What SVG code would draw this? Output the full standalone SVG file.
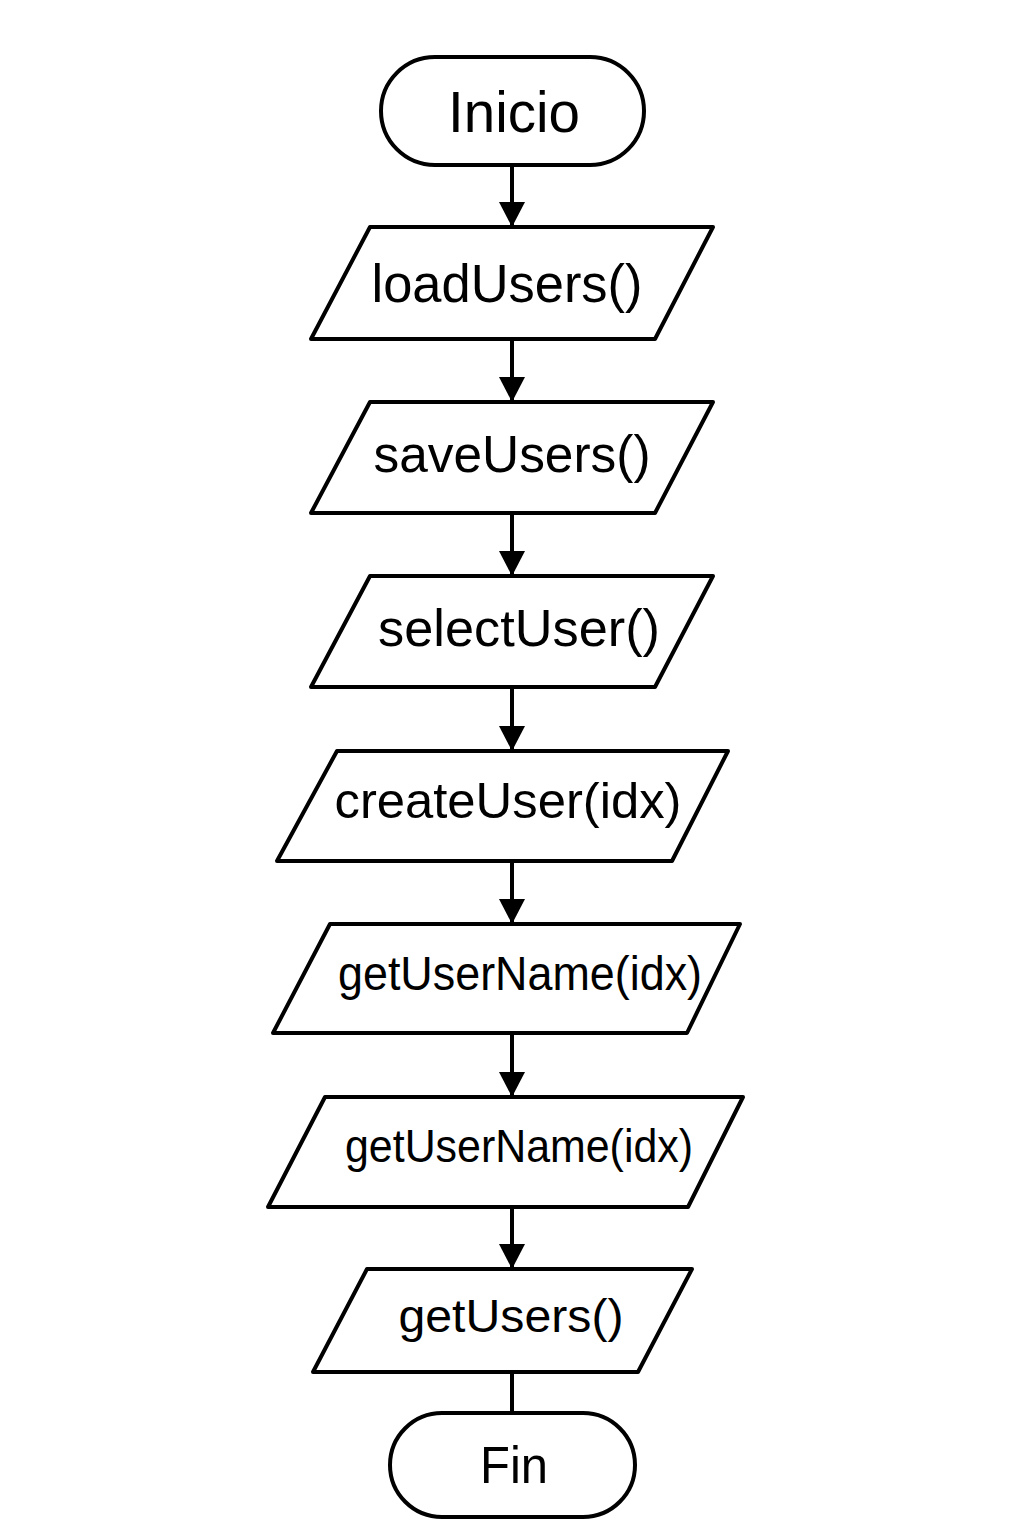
<svg xmlns="http://www.w3.org/2000/svg" width="1024" height="1536" viewBox="0 0 1024 1536">
<defs>
<style>
.shape{fill:#fff;stroke:#000;stroke-width:4;stroke-linejoin:round}
.conn{fill:none;stroke:#000;stroke-width:4}
.lbl{font-family:"Liberation Sans",Arial,sans-serif;fill:#000;text-anchor:middle}
</style>
<marker id="ah" markerUnits="userSpaceOnUse" viewBox="0 0 25 26" refX="25" refY="13" markerWidth="25" markerHeight="26" orient="auto">
<path d="M0,0 L25,13 L0,26 Z" fill="#000"/>
</marker>
</defs>
<rect width="1024" height="1536" fill="#fff"/>
<g id="connectors">
<line class="conn" x1="512" y1="165" x2="512" y2="227" marker-end="url(#ah)"/>
<line class="conn" x1="512" y1="339" x2="512" y2="402" marker-end="url(#ah)"/>
<line class="conn" x1="512" y1="513" x2="512" y2="576" marker-end="url(#ah)"/>
<line class="conn" x1="512" y1="687" x2="512" y2="751" marker-end="url(#ah)"/>
<line class="conn" x1="512" y1="861" x2="512" y2="924" marker-end="url(#ah)"/>
<line class="conn" x1="512" y1="1033" x2="512" y2="1097" marker-end="url(#ah)"/>
<line class="conn" x1="512" y1="1207" x2="512" y2="1269" marker-end="url(#ah)"/>
<line class="conn" x1="512" y1="1372" x2="512" y2="1413"/>
</g>
<g id="inicio">
<rect class="shape" x="381" y="57" width="263" height="108" rx="54"/>
<text class="lbl" x="514" y="132" font-size="58" textLength="132" lengthAdjust="spacingAndGlyphs">Inicio</text>
</g>
<g id="loadUsers">
<polygon class="shape" points="370,227 713,227 655,339 311,339"/>
<text class="lbl" x="507" y="302" font-size="54" textLength="271" lengthAdjust="spacingAndGlyphs">loadUsers()</text>
</g>
<g id="saveUsers">
<polygon class="shape" points="370,402 713,402 655,513 311,513"/>
<text class="lbl" x="512" y="472" font-size="52" textLength="277" lengthAdjust="spacingAndGlyphs">saveUsers()</text>
</g>
<g id="selectUser">
<polygon class="shape" points="370,576 713,576 655,687 311,687"/>
<text class="lbl" x="519" y="646" font-size="52" textLength="282" lengthAdjust="spacingAndGlyphs">selectUser()</text>
</g>
<g id="createUser">
<polygon class="shape" points="337,751 728,751 672,861 277,861"/>
<text class="lbl" x="508" y="818" font-size="50" textLength="347" lengthAdjust="spacingAndGlyphs">createUser(idx)</text>
</g>
<g id="getUserName1">
<polygon class="shape" points="330,924 740,924 687,1033 273,1033"/>
<text class="lbl" x="520" y="990" font-size="48" textLength="364" lengthAdjust="spacingAndGlyphs">getUserName(idx)</text>
</g>
<g id="getUserName2">
<polygon class="shape" points="325,1097 743,1097 688,1207 268,1207"/>
<text class="lbl" x="519" y="1162" font-size="46" textLength="348" lengthAdjust="spacingAndGlyphs">getUserName(idx)</text>
</g>
<g id="getUsers">
<polygon class="shape" points="367,1269 692,1269 638,1372 313,1372"/>
<text class="lbl" x="511" y="1332" font-size="46" textLength="225" lengthAdjust="spacingAndGlyphs">getUsers()</text>
</g>
<g id="fin">
<rect class="shape" x="390" y="1413" width="245" height="104" rx="52"/>
<text class="lbl" x="514" y="1483" font-size="52" textLength="68" lengthAdjust="spacingAndGlyphs">Fin</text>
</g>
</svg>
